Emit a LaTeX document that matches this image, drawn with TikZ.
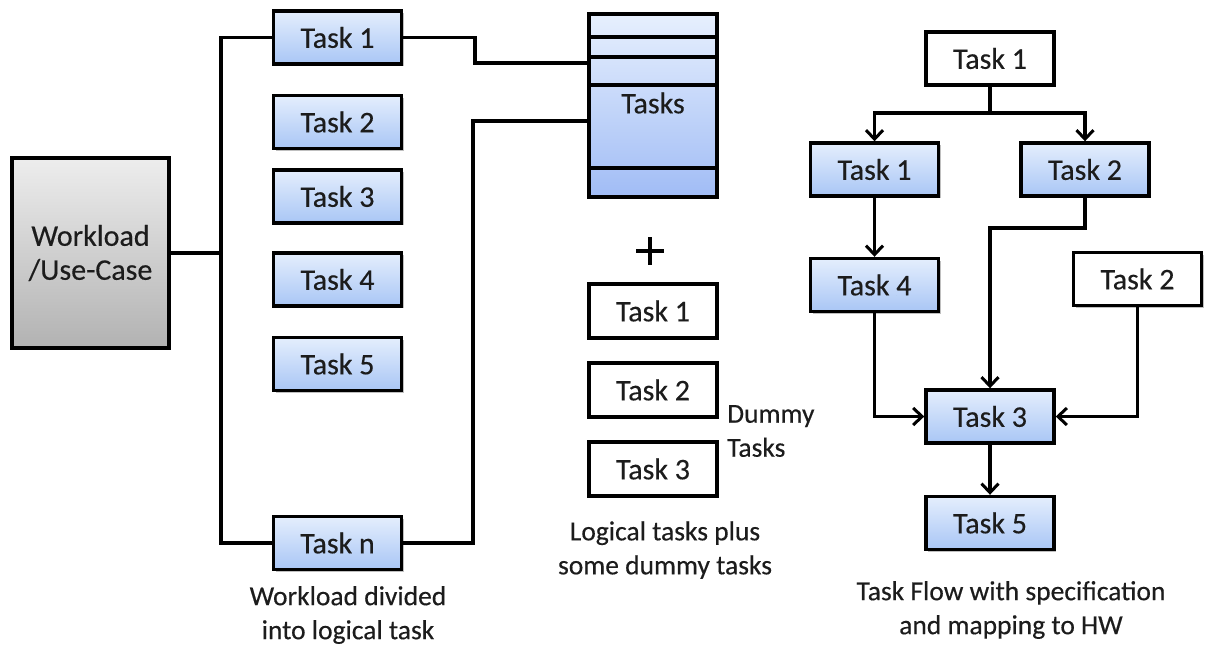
\documentclass[tikz,border=0pt]{standalone}
\usepackage{fontspec}
\setmainfont{Carlito}[FakeBold=0.35]
\usetikzlibrary{arrows.meta,shadows}
\definecolor{bluetop}{HTML}{E4EEFD}
\definecolor{bluebot}{HTML}{A9C6F5}
\definecolor{graytop}{HTML}{EDEDED}
\definecolor{graybot}{HTML}{B2B2B2}
\definecolor{txt}{HTML}{1C1C1C}
\tikzset{
  box/.style={draw=black, line width=3.4pt, minimum width=128pt, minimum height=53pt,
    inner sep=0pt, text=txt, font=\fontsize{30}{34}\selectfont,
    drop shadow={shadow xshift=2pt, shadow yshift=-2pt, opacity=0.25, fill=black}},
  bluebox/.style={box, top color=bluetop, bottom color=bluebot},
  whitebox/.style={box, fill=white},
  caption/.style={align=center, text=txt, font=\fontsize{27.5}{34}\selectfont, inner sep=0pt},
  conn/.style={line width=3.2pt, line join=miter},
  arr/.style={conn, -{Straight Barb[length=9pt,width=17pt,line width=3pt]}},
}
\begin{document}
\begin{tikzpicture}[x=1pt,y=-1pt]
\useasboundingbox (0,0) rectangle (1212,648);
% ---------- left part ----------
\node[box, minimum width=157pt, minimum height=190pt, top color=graytop, bottom color=graybot, align=center]
  (wl) at (90.5,253) {Workload\\/Use-Case};
\node[bluebox] (t1) at (337.5,37.5) {Task 1};
\node[bluebox] (t2) at (337.5,122) {Task 2};
\node[bluebox] (t3) at (337.5,196.5) {Task 3};
\node[bluebox] (t4) at (337.5,279.5) {Task 4};
\node[bluebox] (t5) at (337.5,364) {Task 5};
\node[bluebox] (tn) at (337.5,543) {Task n};
\coordinate (bus) at (221,253);
\draw[conn] (t1.west) -| (bus) |- (tn.west);
\draw[conn] (wl.east) -- (bus);
\node[caption] (cap1) at (348,615) {Workload divided\\into logical task};
% ---------- stack ----------
\node[bluebox, minimum height=183pt, top color=bluetop!90!white, bottom color=bluebot!95!blue] (st) at (653,105.5) {};
\foreach \yy in {37,57,85,168} \draw[line width=3.4pt] (st.west |- 0,\yy) -- (st.east |- 0,\yy);
\node[text=txt, font=\fontsize{30}{34}\selectfont] (stl) at (653,103) {Tasks};
\coordinate (sa) at (589,63);
\coordinate (sb) at (589,121);
\draw[conn] (t1.east) -| (475,63) -- (sa);
\draw[conn] (tn.east) -| (473,121) -- (sb);
% plus
\draw[line width=3.4pt] (636,251) -- (664,251) (650,237) -- (650,265);
% dummy tasks
\node[whitebox, minimum height=54pt] (d1) at (653,311) {Task 1};
\node[whitebox, minimum height=54pt] (d2) at (653,390) {Task 2};
\node[whitebox, minimum height=54pt] (d3) at (653,469) {Task 3};
\node[caption, align=left, anchor=west] (dum) at (727,431) {Dummy\\Tasks};
\node[caption] (cap2) at (665,550) {Logical tasks plus\\some dummy tasks};
% ---------- right part ----------
\node[whitebox] (r1) at (990,58.5) {Task 1};
\node[bluebox] (b1) at (874.5,169.5) {Task 1};
\node[bluebox] (b2) at (1085,169.5) {Task 2};
\node[bluebox] (b4) at (874.5,285) {Task 4};
\node[whitebox] (w2) at (1137.5,279) {Task 2};
\node[bluebox] (b3) at (990,416.5) {Task 3};
\node[bluebox] (b5) at (990,523) {Task 5};
\coordinate (split) at (990,113);
\coordinate (bend) at (990,228);
\draw[conn] (r1.south) -- (split);
\draw[arr] (split) -| (b1.north);
\draw[arr] (split) -| (b2.north);
\draw[arr] (b1) -- (b4);
\draw[arr] (b2.south) |- (bend) -- (b3.north);
\draw[arr] (b4.south) |- (b3.west);
\draw[arr] (w2.south) |- (b3.east);
\draw[arr] (b3) -- (b5);
\node[caption] (cap3) at (1011,610) {Task Flow with specification\\and mapping to HW};
\end{tikzpicture}
\end{document}
